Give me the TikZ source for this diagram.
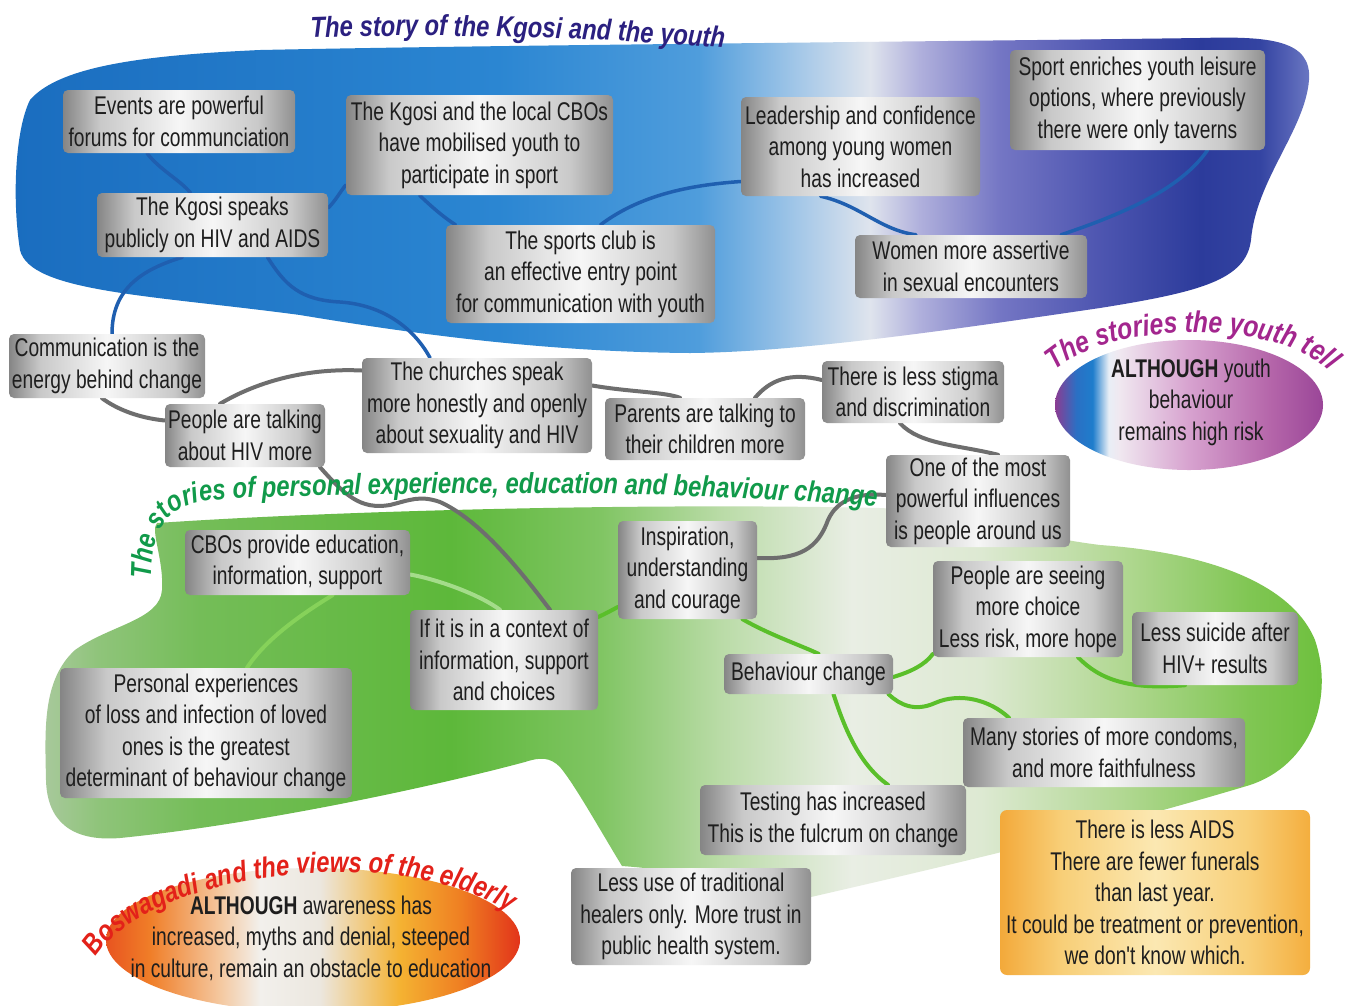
\documentclass[tikz,border=0pt]{standalone}
\usepackage{fontspec}
\newfontfamily\bodyfont[FakeStretch=0.75]{Liberation Sans}
\newfontfamily\titlefont[FakeStretch=0.82]{Liberation Sans}
\usetikzlibrary{decorations.text}
\pgfdeclarelayer{blobs}
\pgfdeclarelayer{links}
\pgfsetlayers{blobs,links,main}

\definecolor{txt}{HTML}{1E1E1E}
\definecolor{mEdgeL}{HTML}{858585}
\definecolor{mMid}{HTML}{C9C9C9}
\definecolor{mLight}{HTML}{F6F6F6}
\definecolor{mEdgeR}{HTML}{909090}
\definecolor{aA}{HTML}{F3A93A}
\definecolor{aB}{HTML}{F8CF78}
\definecolor{aC}{HTML}{FBE8B2}
\definecolor{aD}{HTML}{F4AE3E}
\definecolor{linkblue}{HTML}{1F5FB0}
\definecolor{linkgray}{HTML}{6E6E6E}
\definecolor{linkgreen}{HTML}{5ABF2A}
\definecolor{linklight}{HTML}{86D25A}
\definecolor{ttblue}{HTML}{2B2080}
\definecolor{ttgreen}{HTML}{119A4A}
\definecolor{ttpink}{HTML}{A3268E}
\definecolor{ttred}{HTML}{E32119}

\pgfdeclarehorizontalshading{metal}{100bp}{color(0bp)=(mEdgeL); color(25bp)=(mEdgeL); color(33bp)=(mMid); color(50bp)=(mLight); color(67bp)=(mMid); color(75bp)=(mEdgeR); color(100bp)=(mEdgeR)}
\pgfdeclarehorizontalshading{amber}{100bp}{color(0bp)=(aA); color(25bp)=(aA); color(35bp)=(aB); color(50bp)=(aC); color(65bp)=(aB); color(75bp)=(aD); color(100bp)=(aD)}
\pgfdeclarehorizontalshading{bluegrad}{100bp}{color(0bp)=(rgb,255:red,26;green,109;blue,191); color(25bp)=(rgb,255:red,26;green,109;blue,191); color(43.7bp)=(rgb,255:red,43;green,134;blue,210); color(51.4bp)=(rgb,255:red,79;green,157;blue,220); color(55.3bp)=(rgb,255:red,165;green,200;blue,232); color(58bp)=(rgb,255:red,223;green,228;blue,237); color(59.9bp)=(rgb,255:red,176;green,176;blue,220); color(63bp)=(rgb,255:red,116;green,118;blue,196); color(66.9bp)=(rgb,255:red,77;green,85;blue,176); color(70.7bp)=(rgb,255:red,44;green,59;blue,155); color(73bp)=(rgb,255:red,52;green,68;blue,162); color(75bp)=(rgb,255:red,109;green,121;blue,196); color(100bp)=(rgb,255:red,109;green,121;blue,196)}
\pgfdeclarehorizontalshading{greengrad}{100bp}{color(0bp)=(rgb,255:red,169;green,201;blue,157); color(25bp)=(rgb,255:red,169;green,201;blue,157); color(27.2bp)=(rgb,255:red,143;green,196;blue,122); color(31.1bp)=(rgb,255:red,116;green,189;blue,88); color(40.8bp)=(rgb,255:red,93;green,184;blue,58); color(46.6bp)=(rgb,255:red,128;green,197;blue,99); color(51.2bp)=(rgb,255:red,185;green,219;blue,166); color(56.3bp)=(rgb,255:red,233;green,238;blue,228); color(61.3bp)=(rgb,255:red,221;green,233;blue,210); color(66.7bp)=(rgb,255:red,178;green,216;blue,147); color(71.7bp)=(rgb,255:red,128;green,198;blue,83); color(75bp)=(rgb,255:red,107;green,191;blue,58); color(100bp)=(rgb,255:red,107;green,191;blue,58)}
\pgfdeclarehorizontalshading{youthov}{100bp}{color(0bp)=(rgb,255:red,139;green,60;blue,146); color(25bp)=(rgb,255:red,139;green,60;blue,146); color(29bp)=(rgb,255:red,42;green,112;blue,196); color(32bp)=(rgb,255:red,31;green,125;blue,204); color(35bp)=(rgb,255:red,232;green,238;blue,246); color(37bp)=(rgb,255:red,240;green,232;blue,240); color(50bp)=(rgb,255:red,215;green,162;blue,207); color(65bp)=(rgb,255:red,181;green,102;blue,170); color(75bp)=(rgb,255:red,154;green,70;blue,152); color(100bp)=(rgb,255:red,154;green,70;blue,152)}
\pgfdeclarehorizontalshading{elderov}{100bp}{color(0bp)=(rgb,255:red,232;green,84;blue,32); color(25bp)=(rgb,255:red,232;green,84;blue,32); color(30.3bp)=(rgb,255:red,240;green,126;blue,40); color(38.8bp)=(rgb,255:red,244;green,200;blue,160); color(43.6bp)=(rgb,255:red,242;green,240;blue,236); color(50.8bp)=(rgb,255:red,236;green,231;blue,223); color(60.5bp)=(rgb,255:red,244;green,178;blue,50); color(67.8bp)=(rgb,255:red,239;green,127;blue,34); color(75bp)=(rgb,255:red,226;green,52;blue,26); color(100bp)=(rgb,255:red,226;green,52;blue,26)}

\tikzset{
  box/.style={rectangle, rounded corners=5pt, shading=metal, align=center, inner sep=0pt, text=txt, font=\bodyfont\fontsize{25.6}{31.5}\selectfont},
  amberbox/.style={box, shading=amber, rounded corners=7pt},
  plaintext/.style={align=center, inner sep=0pt, text=txt, font=\bodyfont\fontsize{25.6}{31.5}\selectfont},
  bluelink/.style={draw=linkblue, line width=3.5pt, line cap=round},
  graylink/.style={draw=linkgray, line width=4pt, line cap=round},
  greenlink/.style={draw=linkgreen, line width=4pt, line cap=round},
  titlestyle/.style={decorate, decoration={text along path, text align=#1}},
}

\begin{document}
\begin{tikzpicture}[x=1pt,y=-1pt]
\useasboundingbox (0,0) rectangle (1349,1005);

% ---------- boxes ----------
\node[box, minimum width=232pt, minimum height=63pt] (events) at (179,121.5) {Events are powerful\\forums for communciation};
\node[box, minimum width=267pt, minimum height=100pt] (kgosicbo) at (479.5,145) {The Kgosi and the local CBOs\\have mobilised youth to\\participate in sport};
\node[box, minimum width=231pt, minimum height=64pt] (speaks) at (212.5,225) {The Kgosi speaks\\publicly on HIV and AIDS};
\node[box, minimum width=269pt, minimum height=98pt] (sports) at (580.5,274) {The sports club is\\an effective entry point\\for communication with youth};
\node[box, minimum width=239pt, minimum height=99pt] (leader) at (860.5,146.5) {Leadership and confidence\\among young women\\has increased};
\node[box, minimum width=255pt, minimum height=100pt] (sportrich) at (1137.5,100) {Sport enriches youth leisure\\options, where previously\\there were only taverns};
\node[box, minimum width=232pt, minimum height=63pt] (women) at (971,266.5) {Women more assertive\\in sexual encounters};

\node[box, minimum width=196pt, minimum height=64pt] (comm) at (107,366) {Communication is the\\energy behind change};
\node[box, minimum width=160pt, minimum height=63pt] (talking) at (245,435.5) {People are talking\\about HIV more};
\node[box, minimum width=230pt, minimum height=95pt] (churches) at (477,405.5) {The churches speak\\more honestly and openly\\about sexuality and HIV};
\node[box, minimum width=200pt, minimum height=62pt] (parents) at (705,429) {Parents are talking to\\their children more};
\node[box, minimum width=182pt, minimum height=62pt] (stigma) at (913,392) {There is less stigma\\and discrimination};
\node[box, minimum width=184pt, minimum height=92pt] (influence) at (978,501) {One of the most\\powerful influences\\is people around us};

\node[box, minimum width=225pt, minimum height=65pt] (cbosedu) at (297.5,562.5) {CBOs provide education,\\information, support};
\node[box, minimum width=188pt, minimum height=100pt] (context) at (504,660) {If it is in a context of\\information, support\\and choices};
\node[box, minimum width=139pt, minimum height=98pt] (inspire) at (687.5,570) {Inspiration,\\understanding\\and courage};
\node[box, minimum width=292pt, minimum height=130pt] (personal) at (206,733) {Personal experiences\\of loss and infection of loved\\ones is the greatest\\determinant of behaviour change};
\node[box, minimum width=190pt, minimum height=96pt] (seeing) at (1028,609) {People are seeing\\more choice\\Less risk, more hope};
\node[box, minimum width=169pt, minimum height=40pt] (behav) at (808.5,674) {Behaviour change};
\node[box, minimum width=166pt, minimum height=73pt] (suicide) at (1215,648.5) {Less suicide after\\HIV+ results};
\node[box, minimum width=282pt, minimum height=69pt] (condoms) at (1104,752.5) {Many stories of more condoms,\\and more faithfulness};
\node[box, minimum width=266pt, minimum height=70pt] (testing) at (833,820) {Testing has increased\\This is the fulcrum on change};
\node[box, minimum width=240pt, minimum height=97pt] (healers) at (691,916.5) {Less use of traditional\\healers only. More trust in\\public health system.};
\node[amberbox, minimum width=310pt, minimum height=165pt] (aids) at (1155,892.5) {There is less AIDS\\There are fewer funerals\\than last year.\\It could be treatment or prevention,\\we don't know which.};

% ---------- ellipse texts ----------
\node[plaintext] (youthnote) at (1191,402) {\textbf{ALTHOUGH} youth\\behaviour\\remains high risk};
\node[plaintext] (eldernote) at (311,938) {\textbf{ALTHOUGH} awareness has\\increased, myths and denial, steeped\\in culture, remain an obstacle to education};

% ---------- background blobs ----------
\begin{pgfonlayer}{blobs}
\fill[white] (0,0) rectangle (1349,1005);
\path[shading=bluegrad] (30,100)
  .. controls (60,65) and (150,55) .. (260,50)
  .. controls (500,45) and (900,42) .. (1200,38)
  .. controls (1270,36) and (1312,40) .. (1309,80)
  .. controls (1305,130) and (1256,180) .. (1251,240)
  .. controls (1246,280) and (1200,292) .. (1100,308)
  .. controls (950,330) and (800,352) .. (690,353)
  .. controls (550,352) and (420,335) .. (300,315)
  .. controls (150,295) and (30,292) .. (20,250)
  .. controls (12,200) and (15,130) .. (30,100) -- cycle;
\path[shading=greengrad] (157,523)
  .. controls (350,510) and (650,503) .. (880,508)
  .. controls (960,512) and (1020,535) .. (1100,545)
  .. controls (1200,552) and (1290,580) .. (1315,640)
  .. controls (1335,700) and (1310,765) .. (1250,785)
  .. controls (1100,830) and (950,865) .. (811,897)
  .. controls (750,885) and (680,870) .. (622,866)
  .. controls (600,830) and (575,785) .. (560,767)
  .. controls (550,757) and (540,757) .. (525,762)
  .. controls (420,790) and (250,825) .. (120,838)
  .. controls (70,842) and (47,820) .. (46,780)
  .. controls (45,730) and (42,680) .. (75,650)
  .. controls (110,625) and (160,620) .. (162,590)
  .. controls (164,560) and (150,530) .. (157,523) -- cycle;
\path[shading=youthov] (1189,405) ellipse [x radius=134, y radius=65];
\path[shading=elderov] (313,940) ellipse [x radius=207, y radius=72];
\end{pgfonlayer}

% ---------- connectors ----------
\begin{pgfonlayer}{links}
% blue
\draw[bluelink] ([xshift=-32pt]events.south) .. controls (160,170) and (180,180) .. ([xshift=-22pt]speaks.north);
\draw[bluelink] ([xshift=-30pt]speaks.south) .. controls (140,270) and (112,290) .. ([xshift=5pt]comm.north);
\draw[bluelink] ([xshift=55pt]speaks.south) .. controls (285,285) and (300,300) .. (340,302) .. controls (385,305) and (415,330) .. ([xshift=-47pt]churches.north);
\draw[bluelink] ([yshift=17pt]speaks.east) .. controls (336,200) and (340,192) .. ([yshift=-40pt]kgosicbo.west);
\draw[bluelink] ([xshift=-60pt]kgosicbo.south) .. controls (435,210) and (445,218) .. ([xshift=-125pt]sports.north);
\draw[bluelink] ([xshift=20pt]sports.north) .. controls (640,195) and (690,185) .. ([yshift=-35pt]leader.west);
\draw[bluelink] ([xshift=-40pt]leader.south) .. controls (860,205) and (880,230) .. ([xshift=-55pt]women.north);
\draw[bluelink] ([xshift=90pt]women.north) .. controls (1120,215) and (1180,190) .. ([xshift=70pt]sportrich.south);
% gray
\draw[graylink] ([xshift=-5pt]comm.south) .. controls (118,410) and (140,418) .. ([yshift=15pt]talking.west);
\draw[graylink] ([xshift=-25pt]talking.north) .. controls (260,380) and (310,368) .. ([yshift=35pt]churches.west);
\draw[graylink] ([yshift=20pt]churches.east) .. controls (630,392) and (665,392) .. ([xshift=-25pt]parents.north);
\draw[graylink] ([xshift=50pt]parents.north) .. controls (770,380) and (790,372) .. ([yshift=12pt]stigma.west);
\draw[graylink] ([xshift=-13pt]stigma.south) .. controls (920,445) and (960,445) .. ([xshift=20pt]influence.north);
\draw[graylink] ([yshift=12pt]inspire.east) .. controls (800,560) and (818,548) .. (828,520) .. controls (838,498) and (860,493) .. ([yshift=6pt]influence.west);
\draw[graylink] ([xshift=75pt]talking.south) .. controls (345,495) and (360,510) .. (390,505) .. controls (410,500) and (420,495) .. (440,502) .. controls (480,520) and (520,570) .. ([xshift=46pt]context.north);
% green
\draw[greenlink, draw=linklight] ([xshift=35pt]cbosedu.south) .. controls (300,615) and (265,640) .. ([xshift=41pt]personal.north);
\draw[greenlink, draw=linkgreen!55!white] ([yshift=-12pt]cbosedu.east) .. controls (440,580) and (480,595) .. ([xshift=-4pt]context.north);
\draw[greenlink] ([yshift=43pt]context.east) .. controls (605,614) and (612,610) .. ([yshift=-37pt]inspire.west);
\draw[greenlink] ([xshift=55pt]inspire.south) .. controls (770,635) and (800,645) .. ([xshift=10pt]behav.north);
\draw[greenlink] ([yshift=-3pt]behav.east) .. controls (910,672) and (925,665) .. ([yshift=-45pt]seeing.west);
\draw[greenlink] ([xshift=80pt]behav.south) .. controls (900,705) and (915,712) .. (935,703) .. controls (960,692) and (990,700) .. ([xshift=-95pt]condoms.north);
\draw[greenlink] ([xshift=25pt]behav.south) .. controls (845,730) and (860,765) .. ([xshift=55pt]testing.north);
\draw[greenlink] ([xshift=50pt]seeing.south) .. controls (1100,680) and (1130,690) .. ([xshift=-30pt]suicide.south);
\end{pgfonlayer}

% ---------- curved titles ----------
\path[titlestyle=center, decoration={text color=ttblue, text={|\titlefont\bfseries\itshape\fontsize{29}{30}\selectfont|The story of the Kgosi and the youth}}]
  (300,38) .. controls (430,33) and (600,37) .. (735,49);
\path[titlestyle=left, decoration={text color=ttgreen, text={|\titlefont\bfseries\itshape\fontsize{29}{30}\selectfont|The stories of personal experience, education and behaviour change}}]
  (151,578) .. controls (151,540) and (160,510) .. (200,502) .. controls (225,498) and (245,497) .. (262,497) .. controls (450,492) and (700,488) .. (930,512);
\path[titlestyle=center, decoration={text color=ttpink, text={|\titlefont\bfseries\itshape\fontsize{30}{31}\selectfont|The stories the youth tell}}]
  (1040,390) .. controls (1068,318) and (1312,308) .. (1342,392);
\path[titlestyle=left, decoration={text color=ttred, text={|\titlefont\bfseries\itshape\fontsize{29}{30}\selectfont|Boswagadi and the views of the elderly}}]
  (96,957) .. controls (150,870) and (430,830) .. (540,935);
\end{tikzpicture}
\end{document}
